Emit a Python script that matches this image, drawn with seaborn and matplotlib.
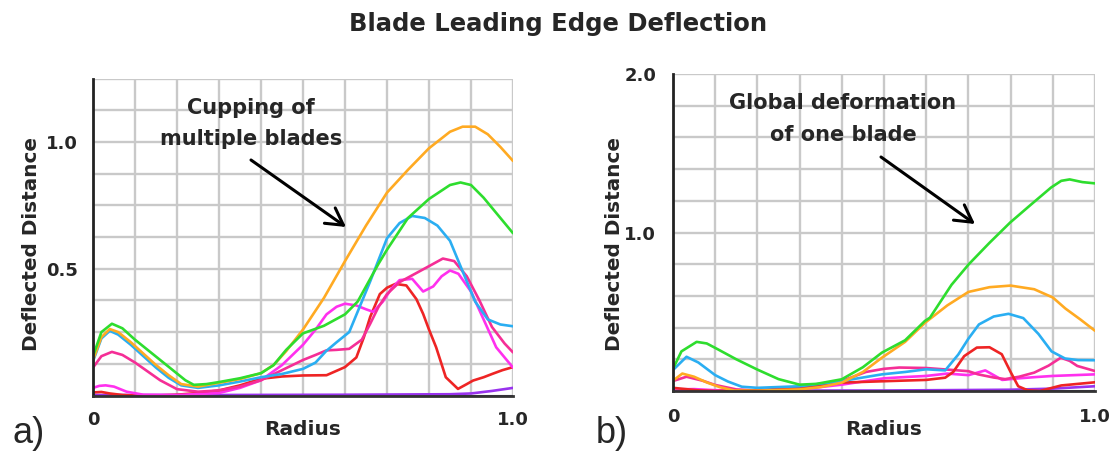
import numpy as np
import matplotlib
matplotlib.use("Agg")
import matplotlib.pyplot as plt
import seaborn as sns

# ---------------- data: panel a) cupping of multiple blades ----------------
a_orange_x = [0, .02, .04, .06, .09, .12, .15, .18, .21, .25, .30, .35, .40, .43, .46, .50, .55, .60, .65, .70, .75, .80, .85, .88, .91, .94, .97, 1.0]
a_orange_y = [.14, .23, .262, .25, .21, .165, .12, .08, .045, .035, .05, .065, .088, .12, .175, .26, .385, .53, .67, .80, .89, .975, 1.04, 1.06, 1.06, 1.03, .98, .925]

a_blue_x = [0, .02, .04, .06, .09, .12, .15, .18, .21, .25, .30, .35, .40, .45, .50, .53, .555, .58, .61, .63, .66, .70, .73, .76, .79, .82, .85, .88, .91, .94, .97, 1.0]
a_blue_y = [.135, .225, .255, .24, .20, .155, .11, .07, .04, .03, .04, .055, .072, .085, .105, .13, .175, .21, .25, .33, .45, .62, .68, .708, .70, .67, .61, .49, .37, .30, .28, .273]

a_green_x = [0, .02, .045, .07, .10, .13, .16, .19, .22, .24, .27, .30, .35, .40, .43, .46, .50, .55, .60, .63, .65, .68, .70, .75, .80, .85, .875, .90, .93, .96, 1.0]
a_green_y = [.155, .25, .283, .265, .22, .18, .14, .10, .06, .042, .045, .053, .068, .088, .12, .18, .245, .275, .32, .37, .43, .52, .575, .70, .775, .83, .84, .83, .78, .72, .64]

a_pink_x = [0, .02, .045, .07, .10, .13, .16, .20, .25, .30, .35, .40, .45, .50, .53, .556, .58, .61, .64, .66, .68, .70, .73, .76, .80, .833, .86, .89, .92, .95, .98, 1.0]
a_pink_y = [.11, .155, .172, .16, .13, .095, .06, .025, .015, .02, .035, .06, .10, .14, .16, .178, .18, .184, .22, .283, .35, .40, .447, .474, .51, .54, .53, .47, .375, .27, .205, .17]

a_fuchsia_x = [0, .015, .03, .05, .08, .12, .2, .3, .35, .40, .45, .50, .53, .556, .58, .60, .627, .65, .667, .69, .71, .73, .76, .786, .81, .83, .85, .87, .90, .93, .96, 1.0]
a_fuchsia_y = [.03, .038, .04, .035, .015, .003, .002, .01, .03, .06, .12, .20, .26, .32, .35, .362, .355, .34, .33, .37, .42, .455, .46, .41, .43, .47, .493, .48, .41, .30, .19, .11]

a_red_x = [0, .02, .04, .07, .10, .15, .20, .25, .30, .35, .40, .45, .50, .556, .60, .627, .645, .66, .683, .70, .72, .746, .77, .786, .80, .817, .84, .869, .89, .905, .93, .952, .975, 1.0]
a_red_y = [.012, .014, .008, .002, 0, 0, .003, .01, .02, .04, .066, .075, .079, .08, .112, .15, .23, .31, .40, .425, .44, .434, .38, .322, .26, .19, .072, .026, .045, .059, .072, .086, .10, .112]

a_purple_x = [0, .3, .6, .85, .9, .95, 1.0]
a_purple_y = [.002, .002, .003, .005, .008, .018, .03]

a_navy_x = [0, 1.0]
a_navy_y = [0, 0]

# ---------------- data: panel b) global deformation of one blade ----------------
b_green_x = [0, .02, .056, .08, .107, .15, .2, .25, .30, .34, .40, .45, .495, .55, .597, .609, .66, .701, .75, .799, .85, .896, .92, .94, .97, 1.0]
b_green_y = [.14, .25, .31, .30, .262, .20, .135, .075, .04, .045, .074, .15, .242, .32, .442, .463, .67, .80, .935, 1.063, 1.18, 1.284, 1.326, 1.335, 1.318, 1.31]

b_orange_x = [0, .022, .05, .081, .11, .145, .2, .3, .35, .40, .45, .495, .55, .597, .65, .70, .75, .80, .856, .90, .93, .966, 1.0]
b_orange_y = [.065, .11, .09, .053, .025, .003, .002, .01, .025, .053, .12, .21, .31, .43, .54, .625, .655, .665, .642, .59, .52, .45, .38]

b_blue_x = [0, .032, .06, .1, .13, .163, .2, .3, .4, .495, .55, .6, .645, .676, .70, .725, .76, .795, .83, .866, .897, .929, .96, 1.0]
b_blue_y = [.132, .216, .18, .10, .06, .027, .02, .03, .063, .105, .12, .137, .13, .23, .33, .42, .47, .487, .46, .36, .25, .205, .195, .194]

b_red_x = [0, .03, .06, .1, .2, .3, .4, .515, .6, .645, .664, .69, .72, .75, .779, .80, .818, .84, .869, .92, .96, 1.0]
b_red_y = [.02, .012, .004, 0, .005, .02, .053, .063, .07, .084, .12, .22, .274, .276, .232, .12, .03, .005, 0, .035, .045, .055]

b_pink_x = [0, .032, .07, .1, .15, .2, .3, .35, .4, .457, .5, .536, .6, .65, .70, .723, .76, .787, .82, .856, .89, .919, .94, .958, 1.0]
b_pink_y = [.063, .09, .065, .038, .01, .003, .01, .03, .063, .12, .14, .148, .145, .135, .125, .105, .085, .075, .09, .116, .16, .21, .19, .158, .126]

b_fuchsia_x = [0, .05, .1, .2, .3, .4, .45, .5, .55, .6, .65, .7, .74, .78, .82, .86, .9, .95, 1.0]
b_fuchsia_y = [.01, .012, .005, 0, .01, .04, .06, .08, .088, .095, .11, .1, .13, .07, .08, .088, .095, .1, .105]

b_purple_x = [0, .5, .8, .9, 1.0]
b_purple_y = [.002, .003, .008, .015, .03]

b_navy_x = [0, 1.0]
b_navy_y = [0, 0]

# ---------------- text ----------------
title_text = "Blade Leading Edge Deflection"
xlabel_text = "Radius"
ylabel_text = "Deflected Distance"
x_tick_labels = ["0", "1.0"]
a_ytick_labels = {0.5: "0.5", 1.0: "1.0"}
b_ytick_labels = {1.0: "1.0", 2.0: "2.0"}
a_note = ["Cupping of", "multiple blades"]
b_note = ["Global deformation", "of one blade"]

# ---------------- style ----------------
sns.set_style("white")
plt.rcParams['font.family'] = ['DejaVu Sans']
plt.rcParams['font.weight'] = 'bold'

C_ORANGE = '#FFAA22'
C_GREEN = '#2EDD2E'
C_BLUE = '#2AAEF2'
C_PINK = '#F52E96'
C_FUCHSIA = '#FF30EE'
C_RED = '#EE2424'
C_PURPLE = '#9933EE'
C_NAVY = '#221155'

W, H = 1117, 453
fig = plt.figure(figsize=(W / 100, H / 100), dpi=100)
fig.patch.set_facecolor('white')


def box(l, t, r, b):
    return [l / W, 1 - b / H, (r - l) / W, (b - t) / H]


axA = fig.add_axes(box(93, 78.5, 513, 395.5))
axB = fig.add_axes(box(673, 74, 1095, 391))


def setup(ax, ymax, ystep, ylabels, ylab_xy, xlab_y, xpad, ypad):
    ax.set_xlim(0, 1)
    ax.set_ylim(0, ymax)
    xt = np.round(np.arange(0, 1.0001, 0.1), 3)
    ax.set_xticks(xt)
    ax.set_xticklabels([x_tick_labels[0] if v == 0 else (x_tick_labels[1] if v == 1.0 else '') for v in xt])
    yt = np.round(np.arange(0, ymax + 1e-6, ystep), 4)
    ax.set_yticks(yt)
    ax.set_yticklabels([ylabels.get(round(float(v), 3), '') for v in yt])
    ax.tick_params(axis='x', length=0, labelsize=13, pad=xpad)
    ax.tick_params(axis='y', length=3.5, width=1.6, color='#C9C9C9', labelsize=13, pad=ypad)
    for lbl in ax.get_xticklabels() + ax.get_yticklabels():
        lbl.set_fontweight('bold')
    ax.grid(True, color='#C9C9C9', lw=1.7, zorder=0)
    ax.set_axisbelow(True)
    for s in ['top', 'right']:
        ax.spines[s].set_visible(False)
    ax.spines['left'].set_color('#222222')
    ax.spines['left'].set_linewidth(2.0)
    ax.spines['bottom'].set_color('#333333')
    ax.spines['bottom'].set_linewidth(2.0)
    ax.set_xlabel(xlabel_text, fontsize=14.5, fontweight='bold')
    ax.set_ylabel(ylabel_text, fontsize=14.4, fontweight='bold')
    ax.xaxis.set_label_coords(0.5, xlab_y)
    ax.yaxis.set_label_coords(*ylab_xy)


def draw(ax, series):
    for xs, ys, c in series:
        sns.lineplot(x=xs, y=ys, ax=ax, color=c, lw=1.9, sort=False,
                     estimator=None, legend=False, solid_capstyle='round',
                     solid_joinstyle='round', clip_on=True)


draw(axA, [
    (a_navy_x, a_navy_y, C_NAVY),
    (a_purple_x, a_purple_y, C_PURPLE),
    (a_red_x, a_red_y, C_RED),
    (a_fuchsia_x, a_fuchsia_y, C_FUCHSIA),
    (a_pink_x, a_pink_y, C_PINK),
    (a_blue_x, a_blue_y, C_BLUE),
    (a_orange_x, a_orange_y, C_ORANGE),
    (a_green_x, a_green_y, C_GREEN),
])
draw(axB, [
    (b_navy_x, b_navy_y, C_NAVY),
    (b_purple_x, b_purple_y, C_PURPLE),
    (b_fuchsia_x, b_fuchsia_y, C_FUCHSIA),
    (b_pink_x, b_pink_y, C_PINK),
    (b_red_x, b_red_y, C_RED),
    (b_blue_x, b_blue_y, C_BLUE),
    (b_orange_x, b_orange_y, C_ORANGE),
    (b_green_x, b_green_y, C_GREEN),
])

setup(axA, 1.25, 0.125, a_ytick_labels, (-0.124, 0.478), -0.076, 11, 7.5)
setup(axB, 2.0, 0.2, b_ytick_labels, (-0.116, 0.465), -0.09, 12.5, 8.6)


def ftext(x, y, s, **kw):
    fig.text(x / W, 1 - y / H, s, **kw)


ftext(558, 31, title_text, ha='center', va='baseline', fontsize=17.5, fontweight='bold')

ftext(251, 114, a_note[0], ha='center', va='baseline', fontsize=15, fontweight='bold')
ftext(251, 145, a_note[1], ha='center', va='baseline', fontsize=15, fontweight='bold')
ftext(843, 109, b_note[0], ha='center', va='baseline', fontsize=15, fontweight='bold')
ftext(843, 141, b_note[1], ha='center', va='baseline', fontsize=15, fontweight='bold')

arrow_kw = dict(arrowstyle='->,head_length=0.8,head_width=0.45', lw=2.2,
                color='black', mutation_scale=15, shrinkA=0, shrinkB=0)
axA.annotate('', xy=(346, H - 227), xytext=(251, H - 160),
             xycoords='figure pixels', textcoords='figure pixels', arrowprops=arrow_kw)
axB.annotate('', xy=(975, H - 224), xytext=(881, H - 157),
             xycoords='figure pixels', textcoords='figure pixels', arrowprops=arrow_kw)

ftext(13, 443, 'a)', ha='left', va='baseline', fontsize=26, fontweight='normal',
      family=['Liberation Sans', 'DejaVu Sans'])
ftext(596, 443, 'b)', ha='left', va='baseline', fontsize=26, fontweight='normal',
      family=['Liberation Sans', 'DejaVu Sans'])

fig.savefig('out.png', dpi=100, facecolor='white')
